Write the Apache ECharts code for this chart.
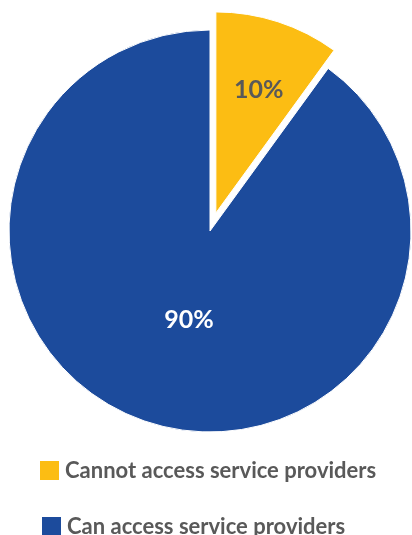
<!DOCTYPE html>
<html>
<head>
<meta charset="utf-8">
<script src="https://cdn.jsdelivr.net/npm/echarts@6/dist/echarts.min.js"></script>
<style>
  html, body { margin: 0; padding: 0; background: #ffffff; }
  #chart { width: 412px; height: 535px; }
</style>
</head>
<body>
<div id="chart"></div>
<script>
// Share of respondents by access to service providers
const categories = ['Cannot access service providers', 'Can access service providers'];
const shares = [10, 90];
const colors = ['#FCBD13', '#1C4B9C'];
const labelColors = ['#595959', '#ffffff'];

const chart = echarts.init(document.getElementById('chart'), null, { renderer: 'canvas' });

// One legend block per category so each row can sit on its own line
const legendTextStyle = {
  fontFamily: 'Lato',
  fontWeight: 'bold',
  fontSize: 22,
  color: '#595959'
};
const legendRows = [
  { left: 33, top: 454 },
  { left: 35, top: 510 }
];

// A blank second line lifts each percentage toward the rim of its slice;
// left padding nudges it sideways
const labelLineHeights = [50, 18];
const labelPadding = [[0, 0, 0, 22], [0, 0, 0, 22]];

chart.setOption({
  animation: false,
  legend: legendRows.map((pos, i) => ({
    orient: 'vertical',
    left: pos.left,
    top: pos.top,
    itemWidth: 21,
    itemHeight: 21,
    itemGap: 8,
    icon: 'rect',
    data: [categories[i]],
    textStyle: legendTextStyle,
    selectedMode: false
  })),
  series: [{
    type: 'pie',
    center: [210, 231],
    radius: [0, 201],
    startAngle: 90,
    clockwise: true,
    selectedMode: 'single',
    selectedOffset: 19,
    silent: true,
    itemStyle: { borderColor: '#ffffff', borderWidth: 1 },
    label: {
      show: true,
      position: 'inside',
      fontFamily: 'Lato',
      fontWeight: 'bold',
      fontSize: 25,
      formatter: (p) => p.value + '%\n '
    },
    labelLine: { show: false },
    data: categories.map((name, i) => ({
      name: name,
      value: shares[i],
      selected: i === 0,
      itemStyle: { color: colors[i] },
      label: {
        color: labelColors[i],
        lineHeight: labelLineHeights[i],
        padding: labelPadding[i]
      }
    }))
  }]
});
</script>
</body>
</html>
